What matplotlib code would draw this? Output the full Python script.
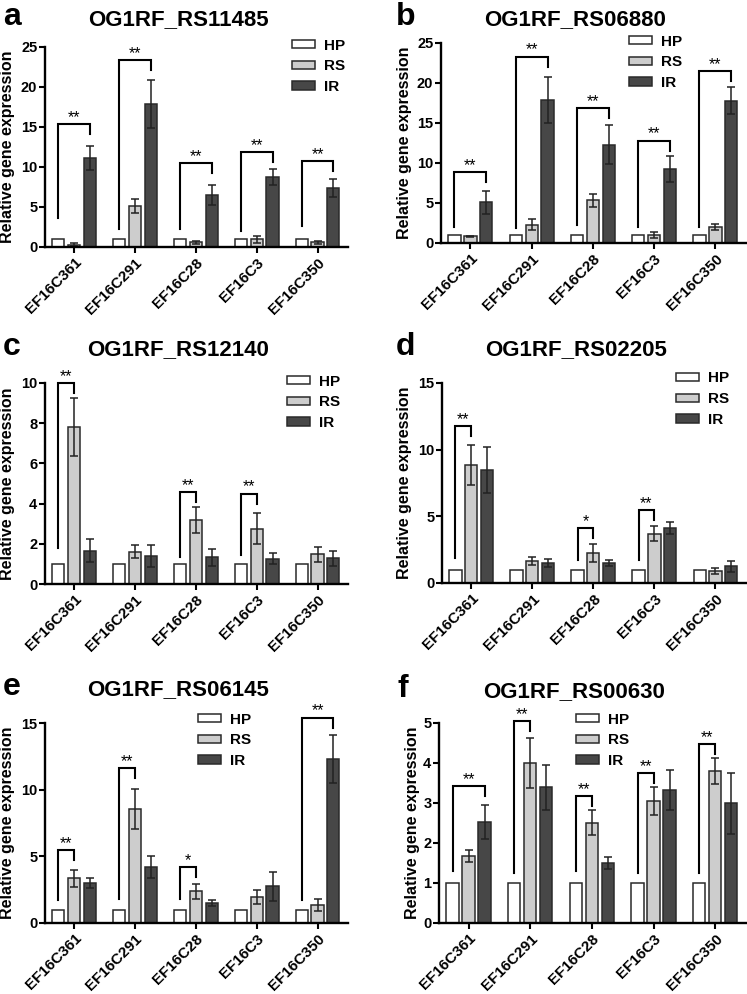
import matplotlib
matplotlib.use('Agg')
import matplotlib.pyplot as plt
from matplotlib.transforms import ScaledTranslation
import numpy as np

plt.rcParams['font.family'] = ['Liberation Sans', 'DejaVu Sans']
plt.rcParams['font.weight'] = 'bold'

genes = ['EF16C361', 'EF16C291', 'EF16C28', 'EF16C3', 'EF16C350']
treatments = ['HP', 'RS', 'IR']

# HP is the calibrator, so it sits at 1 everywhere
hp = [1, 1, 1, 1, 1]

# a: OG1RF_RS11485
a_rs = [0.3, 5.15, 0.58, 0.95, 0.58]
a_rs_err = [0.15, 0.9, 0.2, 0.45, 0.2]
a_ir = [11.1, 17.9, 6.5, 8.7, 7.35]
a_ir_err = [1.5, 3.0, 1.3, 1.0, 1.15]
# significance brackets: (gene index, compared group, left leg bottom, top, label)
a_sig = [(0, 'IR', 3.6, 15.4, '**'), (1, 'IR', 2.2, 23.4, '**'),
         (2, 'IR', 2.2, 10.5, '**'), (3, 'IR', 1.95, 11.9, '**'),
         (4, 'IR', 2.6, 10.7, '**')]

# b: OG1RF_RS06880
b_rs = [0.83, 2.3, 5.33, 1.0, 2.0]
b_rs_err = [0.1, 0.7, 0.85, 0.35, 0.4]
b_ir = [5.1, 17.9, 12.3, 9.25, 17.8]
b_ir_err = [1.45, 2.9, 2.4, 1.6, 1.7]
b_sig = [(0, 'IR', 2.0, 8.9, '**'), (1, 'IR', 1.9, 23.3, '**'),
         (2, 'IR', 2.2, 16.9, '**'), (3, 'IR', 2.0, 12.8, '**'),
         (4, 'IR', 2.0, 21.5, '**')]

# c: OG1RF_RS12140
c_rs = [7.81, 1.6, 3.18, 2.76, 1.47]
c_rs_err = [1.45, 0.33, 0.65, 0.75, 0.38]
c_ir = [1.65, 1.4, 1.32, 1.26, 1.27]
c_ir_err = [0.58, 0.55, 0.42, 0.28, 0.36]
c_sig = [(0, 'RS', 1.77, 10.0, '**'), (2, 'RS', 1.36, 4.59, '**'),
         (3, 'RS', 1.44, 4.5, '**')]

# d: OG1RF_RS02205
d_rs = [8.85, 1.66, 2.24, 3.69, 0.9]
d_rs_err = [1.5, 0.3, 0.65, 0.55, 0.2]
d_ir = [8.47, 1.5, 1.5, 4.11, 1.25]
d_ir_err = [1.75, 0.33, 0.2, 0.47, 0.4]
d_sig = [(0, 'RS', 1.87, 11.78, '**'), (2, 'RS', 1.74, 4.11, '*'),
         (3, 'RS', 1.74, 5.48, '**')]

# e: OG1RF_RS06145
e_rs = [3.36, 8.52, 2.37, 1.94, 1.37]
e_rs_err = [0.63, 1.5, 0.55, 0.5, 0.45]
e_ir = [2.99, 4.19, 1.5, 2.74, 12.31]
e_ir_err = [0.35, 0.8, 0.25, 1.07, 1.8]
e_sig = [(0, 'RS', 1.69, 5.48, '**'), (1, 'RS', 1.79, 11.59, '**'),
         (2, 'RS', 1.79, 4.19, '*'), (4, 'IR', 1.74, 15.4, '**')]

# f: OG1RF_RS00630
f_rs = [1.68, 4.0, 2.51, 3.05, 3.8]
f_rs_err = [0.15, 0.62, 0.31, 0.36, 0.33]
f_ir = [2.52, 3.39, 1.51, 3.32, 2.99]
f_ir_err = [0.43, 0.56, 0.15, 0.5, 0.77]
f_sig = [(0, 'IR', 1.29, 3.42, '**'), (1, 'RS', 1.25, 5.05, '**'),
         (2, 'RS', 1.29, 3.18, '**'), (3, 'RS', 1.25, 3.75, '**'),
         (4, 'RS', 1.25, 4.47, '**')]

W, H = 747, 994

# letter, title, data, y max, y step, axes box (left, bottom, width, height in px),
# legend anchor (patch left, first row centre), ylabel x, letter x, text baseline
panels = [
    ('a', 'OG1RF_RS11485', a_rs, a_rs_err, a_ir, a_ir_err, a_sig, 25, 5,
     (45, 247, 303, 200), (292, 46), 8, 3, 25),
    ('b', 'OG1RF_RS06880', b_rs, b_rs_err, b_ir, b_ir_err, b_sig, 25, 5,
     (441, 243, 305, 200), (629, 42), 405, 396, 25),
    ('c', 'OG1RF_RS12140', c_rs, c_rs_err, c_ir, c_ir_err, c_sig, 10, 2,
     (45, 584, 303, 201), (287, 382), 8, 3, 355),
    ('d', 'OG1RF_RS02205', d_rs, d_rs_err, d_ir, d_ir_err, d_sig, 15, 5,
     (442, 583, 304, 200), (676, 379), 405, 396, 355),
    ('e', 'OG1RF_RS06145', e_rs, e_rs_err, e_ir, e_ir_err, e_sig, 15, 5,
     (45, 923, 303, 200), (198, 720), 8, 3, 695),
    ('f', 'OG1RF_RS00630', f_rs, f_rs_err, f_ir, f_ir_err, f_sig, 5, 1,
     (439, 923, 307, 200), (576, 720), 413, 398, 697),
]

colors = {'HP': 'white', 'RS': '#cdcdcd', 'IR': '#474747'}
edge = '#2a2a2a'
offsets = {'HP': -0.26, 'RS': 0.0, 'IR': 0.26}
width = 0.2

fig = plt.figure(figsize=(W / 100, H / 100), dpi=100)

for (letter, title, rs, rs_err, ir, ir_err, sig, ymax, ystep,
     box, leg, ylab_x, letter_x, base_y) in panels:
    left, bottom, w, h = box
    ax = fig.add_axes([left / W, 1 - bottom / H, w / W, h / H])
    x = np.arange(len(genes))
    ekw = dict(ecolor='#222222', elinewidth=1.1, capsize=2.8, capthick=1.1)
    ax.bar(x + offsets['HP'], hp, width, color=colors['HP'],
           edgecolor=edge, linewidth=1.1, label='HP')
    ax.bar(x + offsets['RS'], rs, width, yerr=rs_err, color=colors['RS'],
           edgecolor=edge, linewidth=1.1, error_kw=ekw, label='RS')
    ax.bar(x + offsets['IR'], ir, width, yerr=ir_err, color=colors['IR'],
           edgecolor=edge, linewidth=1.1, error_kw=ekw, label='IR')

    # significance brackets
    drop = 0.05 * ymax
    for gi, target, low, top, lab in sig:
        x0 = gi + offsets['HP']
        x1 = gi + offsets[target]
        ax.plot([x0, x0, x1, x1], [low, top, top, top - drop], color='k',
                lw=1.5, clip_on=False, solid_joinstyle='miter')
        ax.annotate(lab, ((x0 + x1) / 2, top), xytext=(0, 1.5),
                    textcoords='offset points', ha='center', va='baseline',
                    fontsize=11.5, fontweight='normal', annotation_clip=False)

    ax.set_xlim(-0.48, 4.5)
    ax.set_ylim(0, ymax)
    ax.set_yticks(np.arange(0, ymax + 0.01, ystep))
    ax.set_xticks(x)
    ax.set_xticklabels(genes, rotation=45, ha='right', va='top',
                       rotation_mode='anchor', fontsize=11)
    shift = ScaledTranslation(4 / 100, 0, fig.dpi_scale_trans)
    for lbl in ax.get_xticklabels():
        lbl.set_transform(lbl.get_transform() + shift)
    ax.tick_params(axis='y', labelsize=10.5, width=1.5, length=4, pad=1.5)
    ax.tick_params(axis='x', width=1.5, length=4, pad=2)
    for s in ['top', 'right']:
        ax.spines[s].set_visible(False)
    for s in ['left', 'bottom']:
        ax.spines[s].set_linewidth(1.7)

    lx, ly = leg
    ax.legend(loc='upper left', bbox_to_anchor=(lx / W, 1 - (ly - 7.5) / H),
              bbox_transform=fig.transFigure, frameon=False, borderpad=0,
              borderaxespad=0, handlelength=1.5, handleheight=0.5,
              handletextpad=0.6, labelspacing=0.45, fontsize=11)

    fig.text(ylab_x / W, 1 - (bottom - h / 2) / H, 'Relative gene expression',
             rotation=90, ha='center', va='center', fontsize=11.5)
    fig.text(letter_x / W, 1 - base_y / H, letter,
             ha='left', va='baseline', fontsize=23)
    fig.text((left + w / 2 - 18) / W, 1 - base_y / H, title,
             ha='center', va='baseline', fontsize=16)

plt.savefig('out.png', dpi=100)
